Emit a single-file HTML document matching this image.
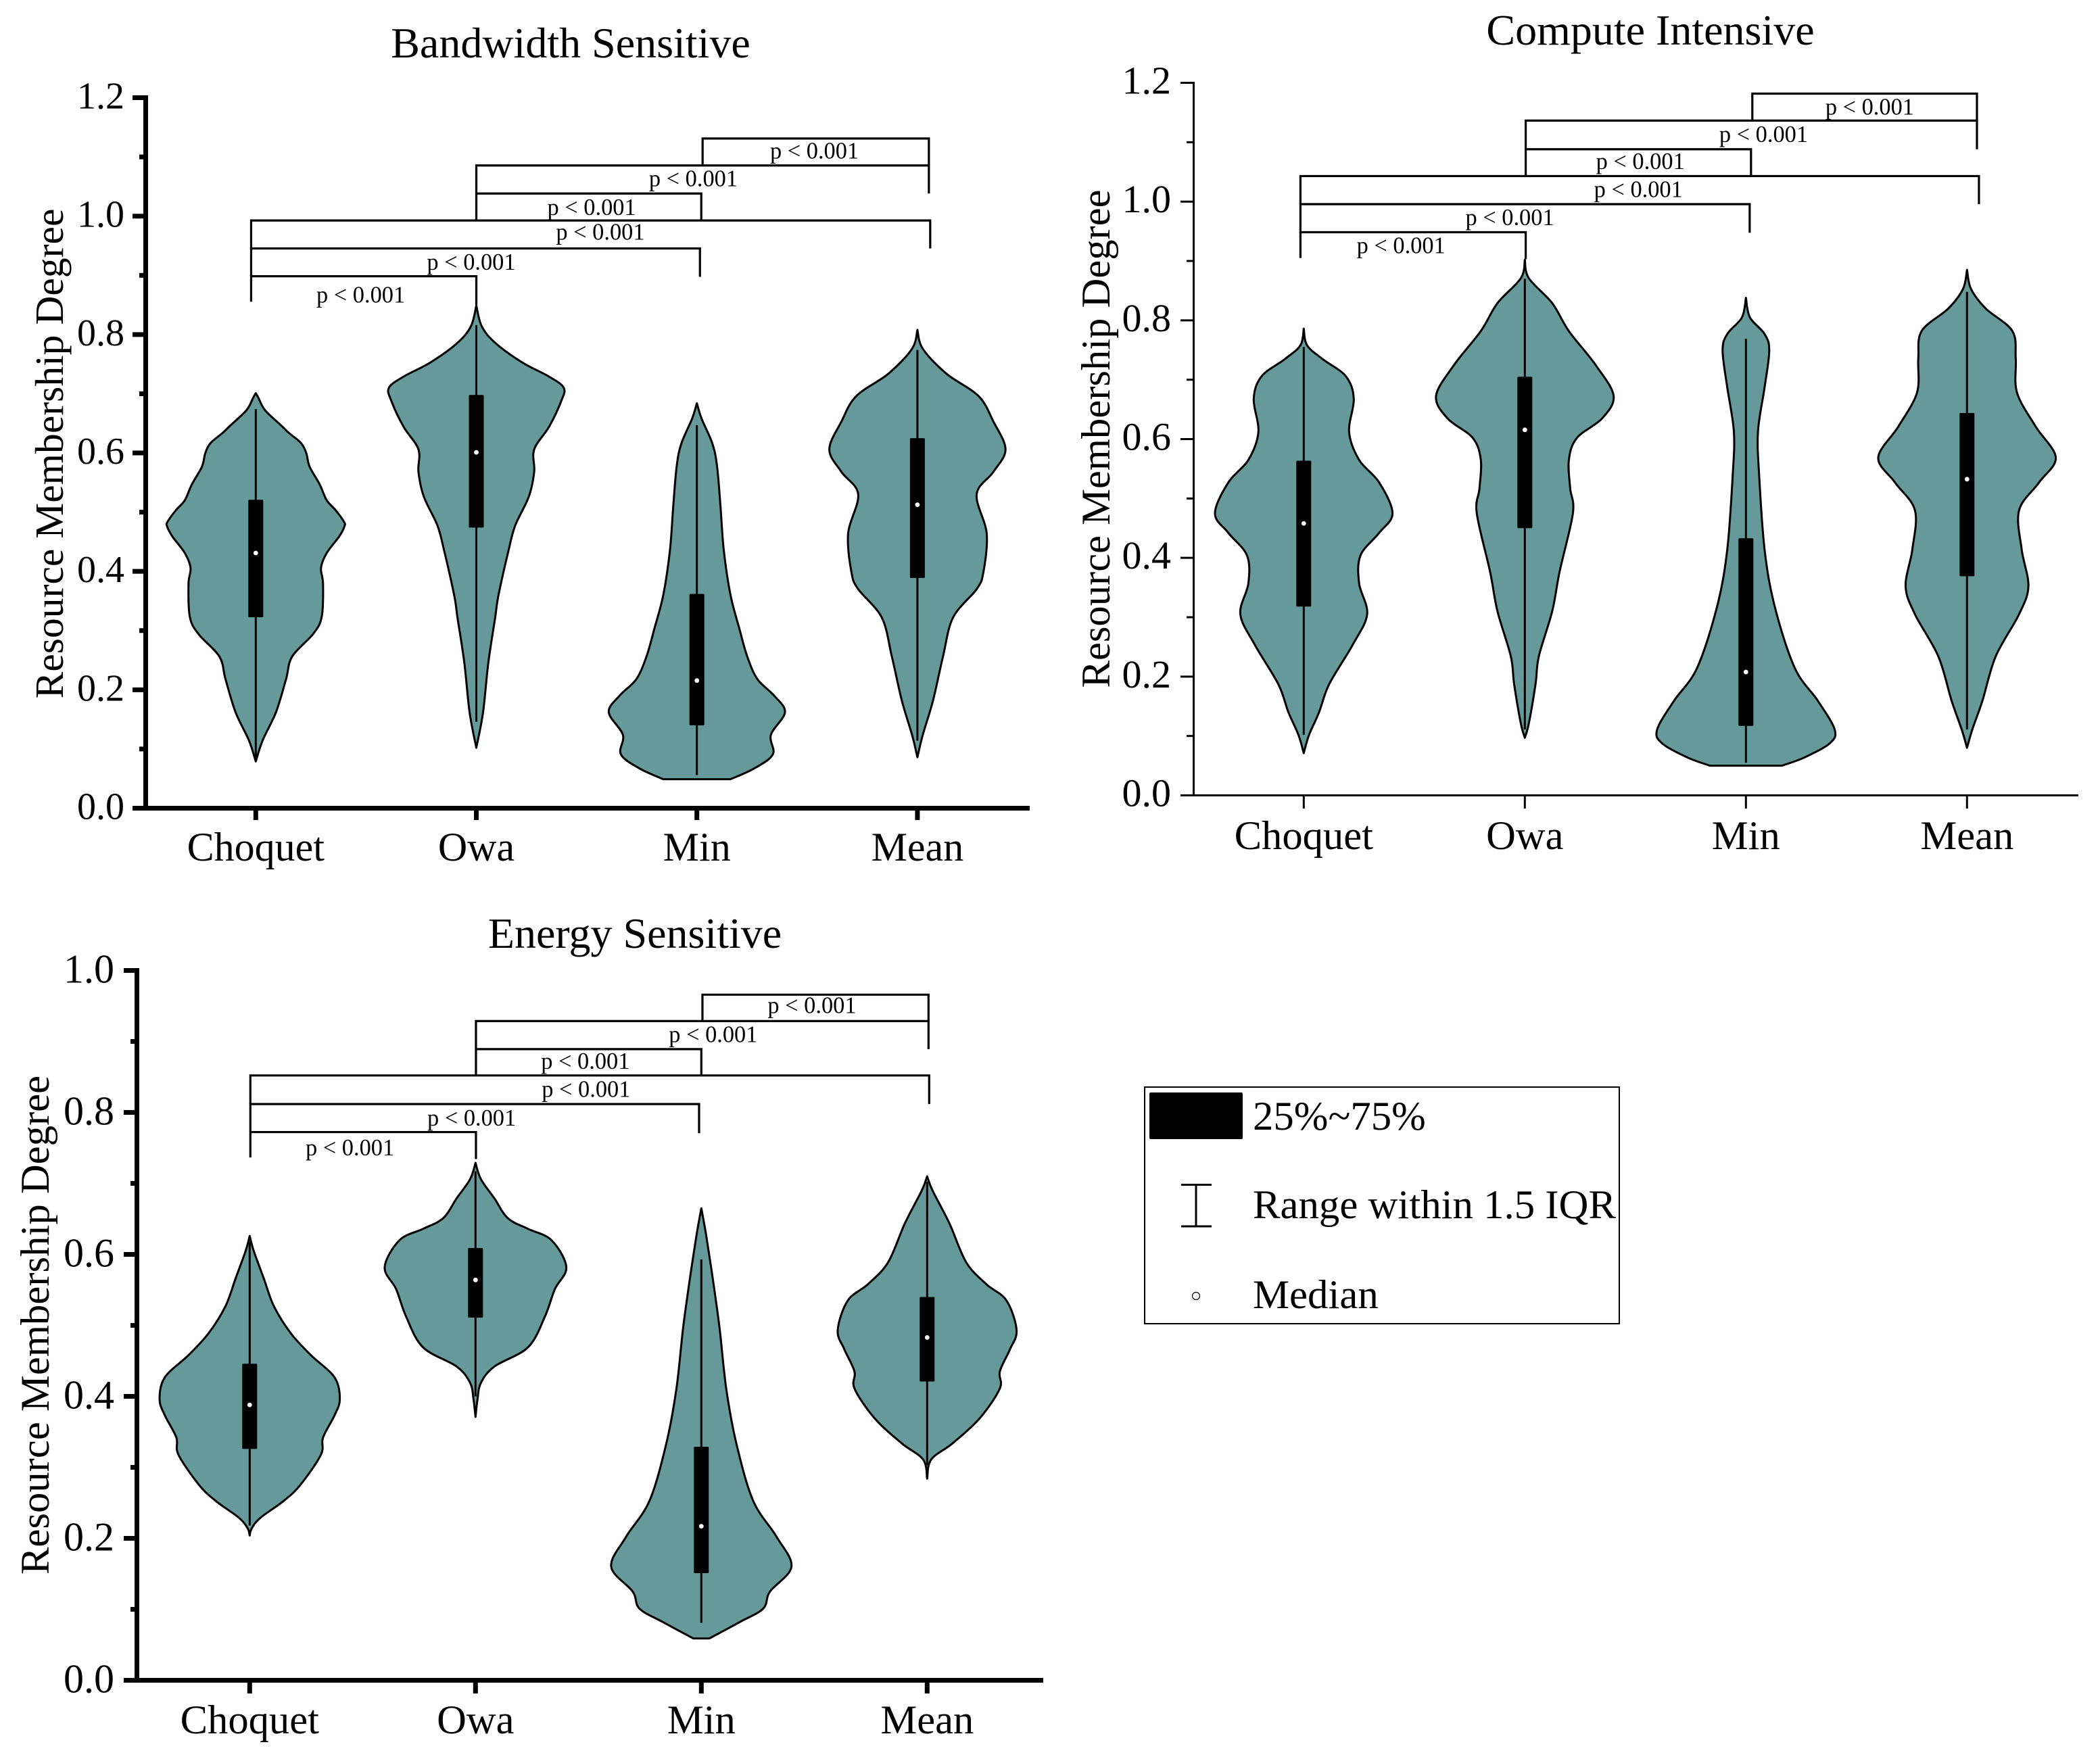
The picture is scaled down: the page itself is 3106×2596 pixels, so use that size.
<!DOCTYPE html>
<html lang="en">
<head>
<meta charset="utf-8">
<title>Resource Membership Degree violin plots</title>
<style>
html,body{margin:0;padding:0;background:#fff;}
svg{display:block;}
text{font-family:"Liberation Serif",serif;fill:#000;}
</style>
</head>
<body>
<svg id="chart" xmlns="http://www.w3.org/2000/svg" width="3106" height="2596" viewBox="0 0 3106 2596">
<rect x="0" y="0" width="3106" height="2596" fill="#fff"/>
<g>
<rect x="1693" y="1608" width="702" height="350" fill="none" stroke="#000" stroke-width="2"/>
<rect x="1700" y="1616" width="138" height="69" rx="2" fill="#000"/>
<text x="1853" y="1671" font-size="60.8">25%~75%</text>
<g stroke="#000" stroke-width="3">
<line x1="1747" x2="1792" y1="1752.5" y2="1752.5"/>
<line x1="1747" x2="1792" y1="1814" y2="1814"/>
<line x1="1769" x2="1769" y1="1752" y2="1814"/>
</g>
<text x="1853" y="1802" font-size="60.8">Range within 1.5 IQR</text>
<circle cx="1769" cy="1917" r="5.5" fill="#fff" stroke="#000" stroke-width="1.2"/>
<text x="1853" y="1935" font-size="60.8">Median</text>
</g>
</svg>
<script>
// Shared categories and annotation text
const categories = ["Choquet", "Owa", "Min", "Mean"];
const bracketLabel = "p < 0.001";

// ---- Bandwidth Sensitive ----
const bwTicks = [0, 0.2, 0.4, 0.6, 0.8, 1.0, 1.2];
const bwMinorTicks = [0.1, 0.3, 0.5, 0.7, 0.9, 1.1];
const bwChoquetLevels = [.079,.114,.162,.218,.256,.294,.323,.379,.406,.431,.459,.4765,.484,.503,.520,.547,.577,.600,.617,.634,.644,.672,.693,.701];
const bwChoquetDensity = [0,.10,.30,.45,.54,.85,.98,1.00,.97,1.055,1.24,1.32,1.31,1.19,1.055,.95,.80,.75,.67,.49,.40,.14,.04,0];
const bwOwaLevels = [.102,.162,.247,.322,.360,.436,.478,.526,.568,.606,.644,.687,.710,.729,.753,.786,.814,.849];
const bwOwaDensity = [0,.10,.18,.28,.33,.48,.58,.78,.86,.86,1.08,1.26,1.30,1.08,.68,.28,.08,0];
const bwMinLevels = [.049,.067,.091,.124,.162,.190,.218,.256,.304,.360,.436,.512,.578,.616,.658,.684];
const bwMinDensity = [.50,.85,1.13,1.10,1.31,1.15,.90,.75,.63,.50,.40,.35,.30,.23,.07,0];
const bwMeanLevels = [.086,.124,.181,.256,.322,.370,.398,.464,.530,.568,.606,.653,.696,.734,.776,.808];
const bwMeanDensity = [0,.08,.23,.38,.53,.88,.98,1.03,.88,1.13,1.31,1.13,.91,.43,.08,0];
const bwQ1 = [.3225,.474,.140,.389];
const bwQ3 = [.521,.698,.362,.625];
const bwMedian = [.431,.601,.2156,.5125];
const bwWhiskerLow = [.086,.146,.056,.114];
const bwWhiskerHigh = [.674,.816,.647,.774];
const bwBracketLevel = [.8985,.9454,.9927,1.0382,1.0856,1.1311];
const bwBracketFrom = [-.021,-.021,-.021,1.0,1.0,2.026];
const bwBracketTo = [1.0,2.014,3.058,2.02,3.052,3.052];
const bwBracketLeftEnd = [.8555,.8985,.9454,.9927,1.0382,1.0856];
const bwBracketRightEnd = [.849,.8975,.9454,.9927,1.0382,1.0856];
const bwLabelCat = [.476,.977,1.5625,1.523,1.984,2.533];
const bwLabelValue = [.8526,.9075,.9587,1.0003,1.0486,1.0958];

// ---- Compute Intensive ----
const ciTicks = [0, 0.2, 0.4, 0.6, 0.8, 1.0, 1.2];
const ciMinorTicks = [0.1, 0.3, 0.5, 0.7, 0.9, 1.1];
const ciChoquetLevels = [.071,.102,.140,.187,.253,.305,.357,.404,.442,.475,.527,.565,.612,.668,.706,.735,.758,.786];
const ciChoquetDensity = [0,.08,.23,.38,.73,.95,.83,.85,1.13,1.33,1.13,.83,.68,.75,.63,.28,.05,0];
const ciOwaLevels = [.097,.121,.187,.234,.310,.376,.475,.517,.565,.602,.635,.673,.725,.782,.829,.871,.902];
const ciOwaDensity = [0,.06,.16,.21,.41,.52,.72,.68,.66,.78,1.16,1.33,1.06,.66,.41,.06,0];
const ciMinLevels = [.050,.064,.088,.111,.159,.215,.319,.414,.536,.612,.687,.749,.777,.805,.838];
const ciMinDensity = [.54,.88,1.26,1.33,1.08,.73,.43,.28,.20,.18,.28,.35,.28,.06,0];
const ciMeanLevels = [.080,.111,.159,.234,.305,.352,.414,.480,.527,.569,.621,.678,.735,.782,.820,.853,.885];
const ciMeanDensity = [0,.08,.23,.43,.78,.92,.82,.78,1.08,1.33,1.03,.75,.73,.68,.28,.06,0];
const ciQ1 = [.318,.45,.117,.369];
const ciQ3 = [.5636,.705,.433,.644];
const ciMedian = [.458,.6156,.2077,.5325];
const ciWhiskerLow = [.102,.111,.055,.111];
const ciWhiskerHigh = [.755,.87,.769,.848];
const ciBracketLevel = [.9484,.9957,1.043,1.0882,1.1364,1.1818];
const ciBracketFrom = [-.015,-.015,-.015,1.004,1.004,2.029];
const ciBracketTo = [1.004,2.017,3.054,2.023,3.045,3.045];
const ciBracketLeftEnd = [.905,.9484,.9957,1.043,1.0882,1.1364];
const ciBracketRightEnd = [.903,.9475,.9957,1.043,1.0882,1.1364];
const ciLabelCat = [.44,.932,1.5136,1.5226,2.08,2.56];
const ciLabelValue = [.9116,.9589,1.0061,1.0533,1.0987,1.145];

// ---- Energy Sensitive ----
const esTicks = [0, 0.2, 0.4, 0.6, 0.8, 1.0];
const esMinorTicks = [0.1, 0.3, 0.5, 0.7, 0.9];
const esChoquetLevels = [.204,.214,.229,.253,.276,.318,.342,.373,.396,.427,.458,.489,.527,.566,.605,.626];
const esChoquetDensity = [0,.03,.16,.51,.76,1.06,1.09,1.26,1.34,1.26,.91,.61,.36,.21,.06,0];
const esOwaLevels = [.371,.396,.419,.442,.469,.512,.551,.582,.620,.636,.651,.679,.706,.729];
const esOwaDensity = [0,.03,.08,.28,.78,1.03,1.18,1.35,1.13,.78,.48,.28,.08,0];
const esMinLevels = [.059,.082,.101,.125,.160,.202,.253,.334,.411,.497,.566,.628,.665];
const esMinDensity = [.12,.57,.92,1.02,1.34,1.12,.77,.52,.37,.27,.17,.07,0];
const esMeanLevels = [.284,.311,.334,.369,.411,.435,.466,.493,.535,.558,.589,.644,.690,.710];
const esMeanDensity = [0,.06,.38,.78,1.08,1.08,1.23,1.33,1.18,.88,.58,.33,.08,0];
const esQ1 = [.326,.511,.151,.421];
const esQ3 = [.446,.609,.329,.54];
const esMedian = [.388,.564,.217,.483];
const esWhiskerLow = [.218,.40,.081,.303];
const esWhiskerHigh = [.618,.717,.593,.702];
const esBracketLevel = [.7723,.8118,.8521,.8892,.9287,.9659];
const esBracketFrom = [.003,.003,.003,1.002,1.002,2.005];
const esBracketTo = [1.002,1.99,3.009,2,3.006,3.006];
const esBracketLeftEnd = [.7366,.7723,.8118,.8521,.8892,.9287];
const esBracketRightEnd = [.7343,.7707,.8118,.8521,.8892,.9287];
const esLabelCat = [.444,.983,1.4896,1.4866,2.0526,2.49];
const esLabelValue = [.7382,.78,.8203,.8598,.8978,.9388];

const NS = "http://www.w3.org/2000/svg";
const svg = document.getElementById("chart");

function mk(parent, tag, attrs, txt) {
  const el = document.createElementNS(NS, tag);
  for (const k in attrs) el.setAttribute(k, attrs[k]);
  if (txt !== undefined) el.textContent = txt;
  parent.appendChild(el);
  return el;
}

function smooth(pts, first) {
  let d = first ? "M" + pts[0][0].toFixed(1) + " " + pts[0][1].toFixed(1) : "L" + pts[0][0].toFixed(1) + " " + pts[0][1].toFixed(1);
  for (let i = 0; i < pts.length - 1; i++) {
    const p0 = pts[Math.max(i - 1, 0)], p1 = pts[i], p2 = pts[i + 1], p3 = pts[Math.min(i + 2, pts.length - 1)];
    const c1x = p1[0] + (p2[0] - p0[0]) / 6, c1y = p1[1] + (p2[1] - p0[1]) / 6;
    const c2x = p2[0] - (p3[0] - p1[0]) / 6, c2y = p2[1] - (p3[1] - p1[1]) / 6;
    d += "C" + c1x.toFixed(1) + " " + c1y.toFixed(1) + " " + c2x.toFixed(1) + " " + c2y.toFixed(1) + " " + p2[0].toFixed(1) + " " + p2[1].toFixed(1);
  }
  return d;
}

function drawPlot(p) {
  const slug = p.slug;
  const g = mk(svg, "g", {});
  
  
  const y = v => p.y0 - v * p.unit;
  const x = c => p.x0 + c * p.step;

  const title = mk(g, "text", {x: p.titleX, y: p.titleY, "font-size": 64, "text-anchor": "middle"}, p.title);
  
  

  const yTitle = mk(g, "text", {transform: "translate(" + p.yTitleX + "," + p.yTitleY + ") rotate(-90)", "font-size": p.yTitleSize, "text-anchor": "middle"}, "Resource Membership Degree");
  
  

  // violins
  categories.forEach((cat, i) => {
    const levels = p.levels[i], density = p.density[i];
    const right = levels.map((v, k) => [x(i) + density[k] * p.dScale, y(v)]);
    const left = levels.map((v, k) => [x(i) - density[k] * p.dScale, y(v)]).reverse();
    const path = mk(g, "path", {d: smooth(right, true) + smooth(left, false) + "Z", fill: "#669999", stroke: "#000", "stroke-width": 3, "stroke-linejoin": "round"});
    
    

    const whisker = mk(g, "line", {x1: x(i), x2: x(i), y1: y(p.whiskerHigh[i]), y2: y(p.whiskerLow[i]), stroke: "#000", "stroke-width": 3});
    
    

    const box = mk(g, "rect", {x: x(i) - 11, y: y(p.q3[i]), width: 22, height: y(p.q1[i]) - y(p.q3[i]), rx: 1.5, fill: "#000"});
    
    

    const med = mk(g, "circle", {cx: x(i), cy: y(p.median[i]), r: 3.4, fill: "#fff"});
    
    
  });

  // significance brackets
  p.bracketLevel.forEach((lv, i) => {
    const xa = x(p.bracketFrom[i]), xb = x(p.bracketTo[i]);
    const d = "M" + xa + " " + y(p.bracketLeftEnd[i]) + "L" + xa + " " + y(lv) + "L" + xb + " " + y(lv) + "L" + xb + " " + y(p.bracketRightEnd[i]);
    const br = mk(g, "path", {d: d, fill: "none", stroke: "#000", "stroke-width": 3.2});
    
    
    const t = mk(g, "text", {x: x(p.labelCat[i]), y: y(p.labelValue[i]) - 1.5, "font-size": 34.4, "text-anchor": "middle"}, bracketLabel);
    
    
  });

  // axes
  const axW = p.axisWidth;
  const yAxis = mk(g, "line", {x1: p.axisX, x2: p.axisX, y1: y(p.ticks[p.ticks.length - 1]) - axW / 2, y2: p.y0, stroke: "#000", "stroke-width": axW});
  
  
  const xAxis = mk(g, "line", {x1: p.tickStart, x2: p.axisEnd, y1: p.y0, y2: p.y0, stroke: "#000", "stroke-width": axW});
  
  

  p.ticks.forEach(v => {
    const tick = mk(g, "line", {x1: p.tickStart, x2: p.axisX, y1: y(v), y2: y(v), stroke: "#000", "stroke-width": axW});
    
    
    const lab = mk(g, "text", {x: p.yLabelX, y: y(v) + p.yLabelDy, "font-size": p.yLabelSize, "text-anchor": "end"}, v.toFixed(1));
    
    
  });
  p.minorTicks.forEach(v => {
    const tick = mk(g, "line", {x1: p.minorStart, x2: p.axisX, y1: y(v), y2: y(v), stroke: "#000", "stroke-width": axW});
    
    
  });
  categories.forEach((cat, i) => {
    const tick = mk(g, "line", {x1: x(i), x2: x(i), y1: p.y0, y2: p.xTickEnd, stroke: "#000", "stroke-width": axW});
    
    
    const lab = mk(g, "text", {x: x(i), y: p.xLabelY, "font-size": p.xLabelSize, "text-anchor": "middle"}, cat);
    
    
  });
}

drawPlot({
  slug: "bandwidth", title: "Bandwidth Sensitive", titleX: 844, titleY: 85,
  yTitleX: 93, yTitleY: 671, yTitleSize: 59.6,
  y0: 1195.5, unit: 875.8, x0: 378.3, step: 326.2, dScale: 99.5,
  axisX: 215.5, axisEnd: 1523, axisWidth: 7, tickStart: 196, minorStart: 206, xTickEnd: 1213,
  yLabelX: 184, yLabelDy: 16, yLabelSize: 56, xLabelY: 1273, xLabelSize: 60,
  ticks: bwTicks, minorTicks: bwMinorTicks,
  levels: [bwChoquetLevels, bwOwaLevels, bwMinLevels, bwMeanLevels],
  density: [bwChoquetDensity, bwOwaDensity, bwMinDensity, bwMeanDensity],
  q1: bwQ1, q3: bwQ3, median: bwMedian, whiskerLow: bwWhiskerLow, whiskerHigh: bwWhiskerHigh,
  bracketLevel: bwBracketLevel, bracketFrom: bwBracketFrom, bracketTo: bwBracketTo,
  bracketLeftEnd: bwBracketLeftEnd, bracketRightEnd: bwBracketRightEnd,
  labelCat: bwLabelCat, labelValue: bwLabelValue
});

drawPlot({
  slug: "compute", title: "Compute Intensive", titleX: 2441, titleY: 66,
  yTitleX: 1641, yTitleY: 649, yTitleSize: 60.6,
  y0: 1176.5, unit: 878.3, x0: 1928.3, step: 327, dScale: 98.7,
  axisX: 1765.5, axisEnd: 3074, axisWidth: 3, tickStart: 1746, minorStart: 1755, xTickEnd: 1196,
  yLabelX: 1732, yLabelDy: 16, yLabelSize: 58, xLabelY: 1256, xLabelSize: 60.6,
  ticks: ciTicks, minorTicks: ciMinorTicks,
  levels: [ciChoquetLevels, ciOwaLevels, ciMinLevels, ciMeanLevels],
  density: [ciChoquetDensity, ciOwaDensity, ciMinDensity, ciMeanDensity],
  q1: ciQ1, q3: ciQ3, median: ciMedian, whiskerLow: ciWhiskerLow, whiskerHigh: ciWhiskerHigh,
  bracketLevel: ciBracketLevel, bracketFrom: ciBracketFrom, bracketTo: ciBracketTo,
  bracketLeftEnd: ciBracketLeftEnd, bracketRightEnd: ciBracketRightEnd,
  labelCat: ciLabelCat, labelValue: ciLabelValue
});

drawPlot({
  slug: "energy", title: "Energy Sensitive", titleX: 939, titleY: 1402,
  yTitleX: 72, yTitleY: 1960, yTitleSize: 60.7,
  y0: 2485.5, unit: 1050, x0: 369.3, step: 334, dScale: 99.5,
  axisX: 202.5, axisEnd: 1543, axisWidth: 7, tickStart: 183, minorStart: 193, xTickEnd: 2505,
  yLabelX: 169, yLabelDy: 18, yLabelSize: 60, xLabelY: 2564, xLabelSize: 60.6,
  ticks: esTicks, minorTicks: esMinorTicks,
  levels: [esChoquetLevels, esOwaLevels, esMinLevels, esMeanLevels],
  density: [esChoquetDensity, esOwaDensity, esMinDensity, esMeanDensity],
  q1: esQ1, q3: esQ3, median: esMedian, whiskerLow: esWhiskerLow, whiskerHigh: esWhiskerHigh,
  bracketLevel: esBracketLevel, bracketFrom: esBracketFrom, bracketTo: esBracketTo,
  bracketLeftEnd: esBracketLeftEnd, bracketRightEnd: esBracketRightEnd,
  labelCat: esLabelCat, labelValue: esLabelValue
});
</script>
</body>
</html>
